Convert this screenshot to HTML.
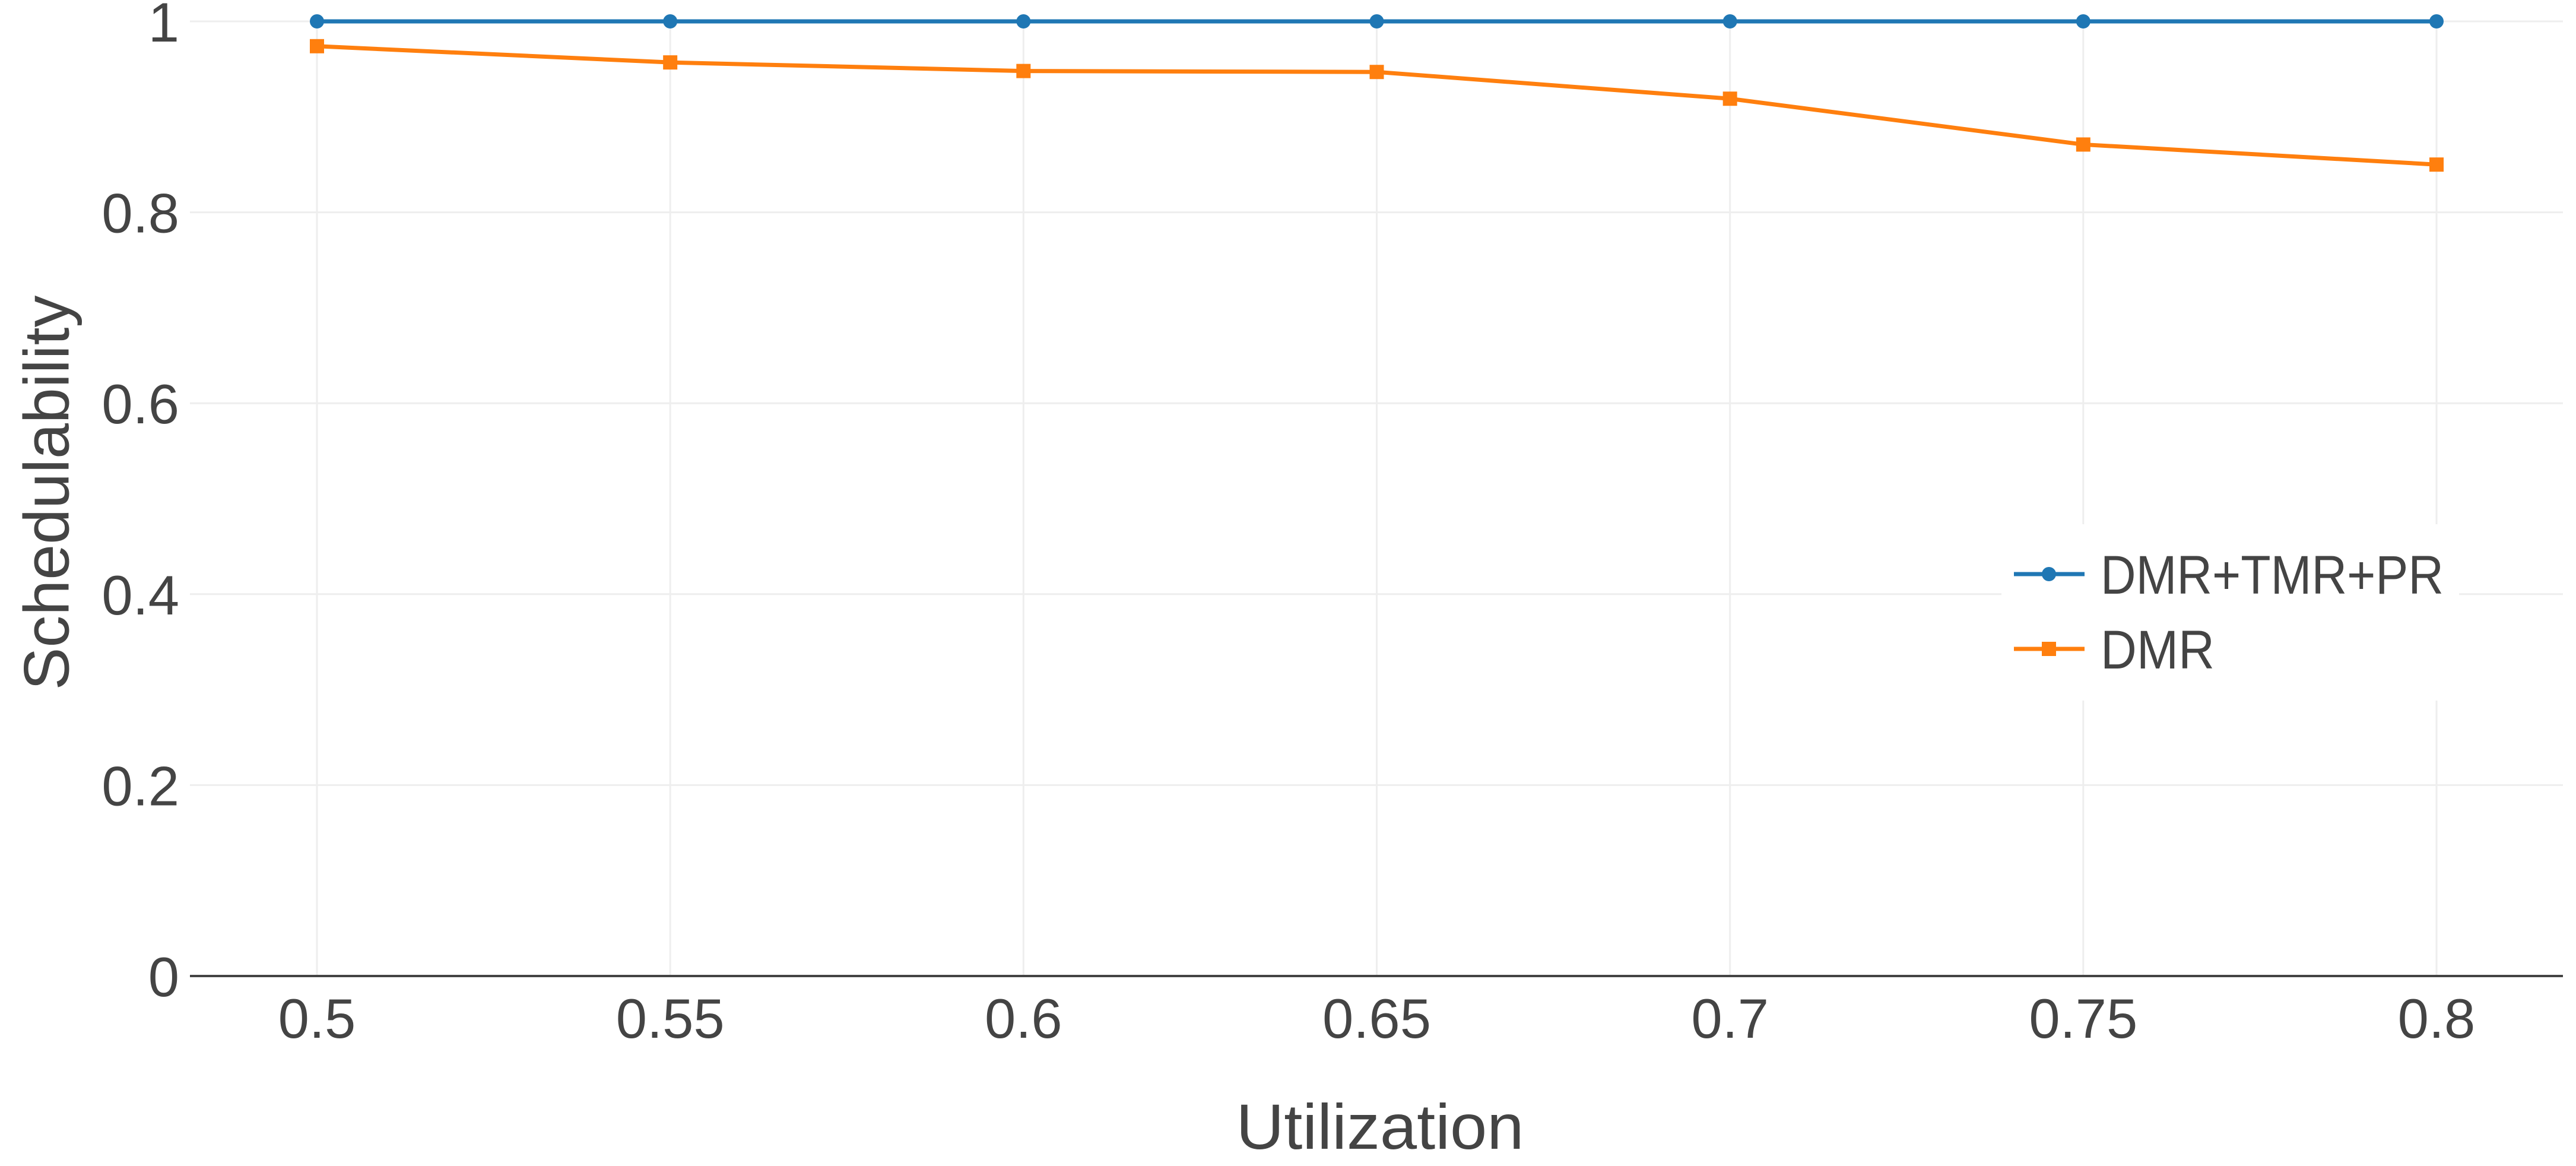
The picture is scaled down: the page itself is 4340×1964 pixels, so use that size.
<!DOCTYPE html>
<html><head><meta charset="utf-8"><style>
html,body{margin:0;padding:0;background:#fff;}
svg{display:block;font-family:"Liberation Sans","DejaVu Sans",sans-serif;}
</style></head><body>
<svg id="chart" width="4340" height="1964" viewBox="0 0 4340 1964">
<g id="grid"></g>
<g id="axes"></g>
<g id="series"></g>
<g id="legend"></g>
<text x="78" y="830" transform="rotate(-90 78 830)" text-anchor="middle" dominant-baseline="central" font-size="108" fill="#444" textLength="665" lengthAdjust="spacingAndGlyphs">Schedulability</text>
<text x="2325" y="1935" text-anchor="middle" font-size="108" fill="#444" textLength="485" lengthAdjust="spacingAndGlyphs">Utilization</text>
</svg>
<script>
const categories = [0.5, 0.55, 0.6, 0.65, 0.7, 0.75, 0.8];
const xTickLabels = ["0.5","0.55","0.6","0.65","0.7","0.75","0.8"];
const yTicks = [0, 0.2, 0.4, 0.6, 0.8, 1];
const yTickLabels = ["0","0.2","0.4","0.6","0.8","1"];
const seriesNames = ["DMR+TMR+PR","DMR"];
const seriesAll = [1, 1, 1, 1, 1, 1, 1];
const seriesDMR = [0.974, 0.957, 0.948, 0.947, 0.919, 0.871, 0.850];

const NS="http://www.w3.org/2000/svg";
const X0=320, X1=4318, Y0=1644, Y1=36;
function xs(v){return 534+(v-0.5)/0.3*(4105-534);}
function ys(v){return Y0-v*(Y0-Y1);}
function mk(tag,attrs,parent){const e=document.createElementNS(NS,tag);for(const k in attrs)e.setAttribute(k,attrs[k]);parent.appendChild(e);return e;}
const grid=document.getElementById('grid'),axes=document.getElementById('axes'),ser=document.getElementById('series'),leg=document.getElementById('legend');

categories.forEach((c,i)=>{
  const l=mk('line',{x1:xs(c),x2:xs(c),y1:Y1,y2:Y0,stroke:'#eee','stroke-width':3},grid);
  
  
  const t=mk('text',{x:xs(c),y:1748,'text-anchor':'middle','font-size':94,fill:'#444'},axes);
  t.textContent=xTickLabels[i];
  
  
});
yTicks.forEach((v,i)=>{
  if(v>0){const l=mk('line',{x1:X0,x2:X1,y1:ys(v),y2:ys(v),stroke:'#eee','stroke-width':3},grid);
  
  }
  const t=mk('text',{x:302,y:ys(v)+34,'text-anchor':'end','font-size':94,fill:'#444'},axes);
  t.textContent=yTickLabels[i];
  
  
});
const ax=mk('line',{x1:X0,x2:X1,y1:Y0,y2:Y0,stroke:'#444','stroke-width':4},axes);



function drawSeries(vals,color,square,name){
  const pts=categories.map((c,i)=>xs(c)+','+ys(vals[i])).join(' ');
  const pl=mk('polyline',{points:pts,fill:'none',stroke:color,'stroke-width':7,'stroke-linejoin':'round'},ser);
  
  
  categories.forEach((c,i)=>{
    let m;
    if(square) m=mk('rect',{x:xs(c)-12,y:ys(vals[i])-12,width:24,height:24,fill:color},ser);
    else m=mk('circle',{cx:xs(c),cy:ys(vals[i]),r:12,fill:color},ser);
    
    
  });
}
drawSeries(seriesAll,'#1f77b4',false,'dmr-tmr-pr');
drawSeries(seriesDMR,'#ff7f0e',true,'dmr');

const bg=mk('rect',{x:3372,y:883,width:771,height:297,fill:'#fff'},leg);


const legLens=[578,192];
[['#1f77b4',false,967],['#ff7f0e',true,1093]].forEach((s,i)=>{
  const g=mk('g',{},leg);
  
  
  mk('line',{x1:3393,x2:3512,y1:s[2],y2:s[2],stroke:s[0],'stroke-width':7},g);
  if(s[1]) mk('rect',{x:3440,y:s[2]-12,width:24,height:24,fill:s[0]},g);
  else mk('circle',{cx:3452,cy:s[2],r:12,fill:s[0]},g);
  const t=mk('text',{x:3539,y:s[2]+33,'font-size':92,fill:'#444',textLength:legLens[i],lengthAdjust:'spacingAndGlyphs'},g);
  t.textContent=seriesNames[i];
});
</script>
</body></html>
